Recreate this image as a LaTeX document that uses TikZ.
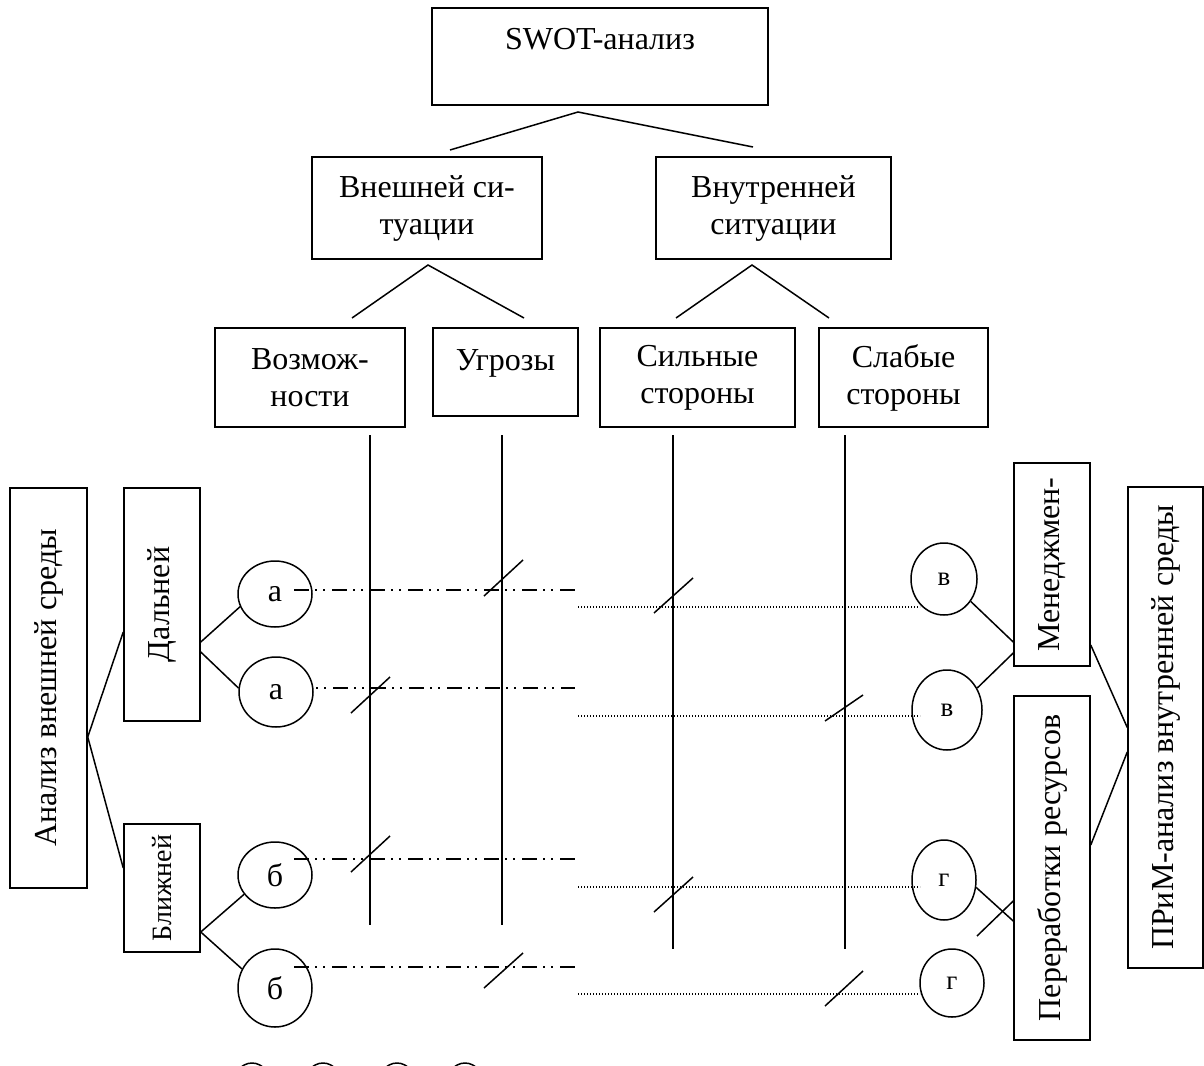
\documentclass[tikz,border=0pt]{standalone}
\usepackage{fontspec}
\setmainfont{Liberation Serif}
\usetikzlibrary{shapes.geometric}
\begin{document}
\begin{tikzpicture}[x=1pt, y=-1pt,
  line width=1.5pt,
  every node/.style={font=\fontsize{32}{37}\selectfont, inner sep=0pt},
  box/.style={draw, align=center, line width=1.5pt},
  oval/.style={draw, ellipse, line width=1.5pt},
  small/.style={font=\fontsize{27}{32}\selectfont},
  dashdot/.style={dash pattern=on 15pt off 6pt on 2pt off 6pt on 2pt off 7pt},
  dotline/.style={line width=1.3pt, dash pattern=on 1.3pt off 1.7pt},
]
\useasboundingbox (0,0) rectangle (1204,1065);

% ---- top of the tree
\node[box, minimum width=336pt, minimum height=97pt] (swot) at (600,56.5) {};
\node[anchor=base] (swott) at (600,50) {SWOT-анализ};

\node[box, minimum width=230pt, minimum height=102pt] (ext) at (427,208) {Внешней си-\\туации};
\node[box, minimum width=235pt, minimum height=102pt] (int) at (773.5,208) {Внутренней\\ситуации};

\node[box, minimum width=190pt, minimum height=99pt] (opp) at (310,377.5) {Возмож-\\ности};
\node[box, minimum width=145pt, minimum height=88pt] (thr) at (505.5,372) {};
\node[anchor=base] (thrt) at (505.5,370) {Угрозы};
\node[box, minimum width=195pt, minimum height=99pt] (str) at (697.5,377.5) {Сильные\\стороны};
\node[box, minimum width=169pt, minimum height=99pt] (wea) at (903.5,377.5) {Слабые\\стороны};

\coordinate (s0) at (578,112);
\coordinate (s1) at (450,150);
\coordinate (s2) at (753,147);
\draw (s1) -- (s0) -- (s2);
\coordinate (e0) at (428,265);
\coordinate (e1) at (352,318);
\coordinate (e2) at (524,318);
\draw (e1) -- (e0) -- (e2);
\coordinate (i0) at (752,265);
\coordinate (i1) at (676,318);
\coordinate (i2) at (829,318);
\draw (i1) -- (i0) -- (i2);

% ---- vertical columns
\coordinate (c1t) at (370,435); \coordinate (c1b) at (370,925);
\coordinate (c2t) at (502,435); \coordinate (c2b) at (502,925);
\coordinate (c3t) at (673,435); \coordinate (c3b) at (673,949);
\coordinate (c4t) at (845,435); \coordinate (c4b) at (845,949);
\draw (c1t) -- (c1b);
\draw (c2t) -- (c2b);
\draw (c3t) -- (c3b);
\draw (c4t) -- (c4b);

% ---- external environment (left)
\node[box, minimum width=77pt, minimum height=400pt] (env) at (48.5,688) {};
\node[rotate=90] (envt) at (env) {Анализ внешней среды};
\node[box, minimum width=76pt, minimum height=233pt] (far) at (162,604.5) {};
\node[rotate=90] (fart) at (far) {Дальней};
\node[box, minimum width=76pt, minimum height=128pt] (near) at (162,888) {};
\node[rotate=90, font=\fontsize{28}{32}\selectfont] (neart) at (near) {Ближней};

\node[oval, minimum width=74pt, minimum height=66pt] (a1) at (275,594) {а};
\node[oval, minimum width=74pt, minimum height=70pt] (a2) at (276,692) {а};
\node[oval, minimum width=74pt, minimum height=66pt] (b1) at (275,875) {б};
\node[oval, minimum width=74pt, minimum height=78pt] (b2) at (275,988) {б};

\draw ([yshift=-49pt]env.east) -- ([yshift=-27.5pt]far.west);
\draw ([yshift=-49pt]env.east) -- ([yshift=20pt]near.west);
\draw ([yshift=-37.5pt]far.east) -- (a1.200);
\draw ([yshift=-47.5pt]far.east) -- (a2.174);
\draw ([yshift=-44pt]near.east) -- (b1.212);
\draw ([yshift=-44pt]near.east) -- (b2.150);

% ---- internal environment (right)
\node[box, minimum width=76pt, minimum height=203pt] (mgmt) at (1052,564.5) {};
\node[rotate=90] (mgmtt) at (mgmt) {Менеджмен-};
\node[box, minimum width=76pt, minimum height=344pt] (proc) at (1052,868) {};
\node[rotate=90] (proct) at (proc) {Переработки ресурсов};
\node[box, minimum width=75pt, minimum height=481pt] (prim) at (1165.5,727.5) {};
\node[rotate=90] (primt) at (prim) {ПРиМ-анализ внутренней среды};

\node[oval, small, minimum width=66pt, minimum height=72pt] (v1) at (944,579) {в};
\node[oval, small, minimum width=70pt, minimum height=80pt] (v2) at (947,710) {в};
\node[oval, small, minimum width=64pt, minimum height=80pt] (g1) at (944,880) {г};
\node[oval, small, minimum width=64pt, minimum height=68pt] (g2) at (952,983) {г};

\draw (v1.-40) -- ([yshift=-77.5pt]mgmt.west);
\draw (v2.36) -- ([yshift=-88.5pt]mgmt.west);
\draw (g1.-13) -- ([yshift=-53pt]proc.west);
\coordinate (gx) at (977,936);
\draw (gx) -- ([yshift=-33pt]proc.west);
\draw ([yshift=-80.5pt]mgmt.east) -- (prim.west);
\draw ([yshift=-24.5pt]prim.west) -- ([yshift=23pt]proc.east);

% ---- dash-dot lines from the external factors
\coordinate (ha1) at (294,590); \coordinate (ha1e) at (575,590);
\coordinate (ha2) at (316,688); \coordinate (ha2e) at (575,688);
\coordinate (hb1) at (294,859); \coordinate (hb1e) at (575,859);
\coordinate (hb2) at (294,967); \coordinate (hb2e) at (575,967);
\draw[dashdot] (ha1) -- (ha1e);
\draw[dashdot, dash phase=21pt] (ha2) -- (ha2e);
\draw[dashdot] (hb1) -- (hb1e);
\draw[dashdot] (hb2) -- (hb2e);

% ---- dotted lines to the internal factors
\coordinate (dv1) at (578,607); \coordinate (dv1e) at (920,607);
\coordinate (dv2) at (578,716); \coordinate (dv2e) at (920,716);
\coordinate (dg1) at (578,887); \coordinate (dg1e) at (920,887);
\coordinate (dg2) at (578,994); \coordinate (dg2e) at (920,994);
\draw[dotline] (dv1) -- (dv1e);
\draw[dotline] (dv2) -- (dv2e);
\draw[dotline] (dg1) -- (dg1e);
\draw[dotline] (dg2) -- (dg2e);

% ---- crossing marks
\draw (484,596) -- (523,560);
\draw (351,713) -- (390,677);
\draw (654,613) -- (693,578);
\draw (825,721) -- (863,695);
\draw (351,872) -- (390,836);
\draw (484,988) -- (523,953);
\draw (654,912) -- (693,877);
\draw (825,1006) -- (863,971);

% ---- row of circles running off the lower edge
\begin{scope}
\clip (0,0) rectangle (1204,1065);
\node[oval, minimum width=40pt, minimum height=50pt] (p1) at (252,1088) {};
\node[oval, minimum width=40pt, minimum height=50pt] (p2) at (323,1088) {};
\node[oval, minimum width=40pt, minimum height=50pt] (p3) at (397,1088) {};
\node[oval, minimum width=40pt, minimum height=50pt] (p4) at (465,1088) {};
\end{scope}
\end{tikzpicture}
\end{document}
